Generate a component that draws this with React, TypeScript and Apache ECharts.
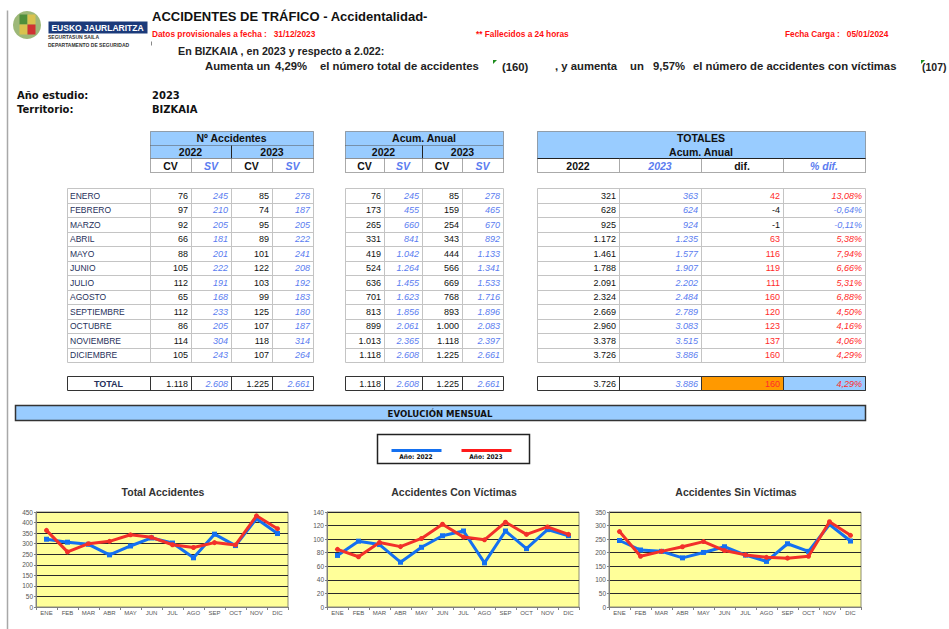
import React, { useEffect, useRef } from 'react';
import * as echarts from 'echarts';

const MONTHS = ['ENERO', 'FEBRERO', 'MARZO', 'ABRIL', 'MAYO', 'JUNIO', 'JULIO', 'AGOSTO', 'SEPTIEMBRE', 'OCTUBRE', 'NOVIEMBRE', 'DICIEMBRE'];
const MONTH_ABBR = ['ENE', 'FEB', 'MAR', 'ABR', 'MAY', 'JUN', 'JUL', 'AGO', 'SEP', 'OCT', 'NOV', 'DIC'];

const CV_2022 = [76, 97, 92, 66, 88, 105, 112, 65, 112, 86, 114, 105];
const SV_2022 = [245, 210, 205, 181, 201, 222, 191, 168, 233, 205, 304, 243];
const CV_2023 = [85, 74, 95, 89, 101, 122, 103, 99, 125, 107, 118, 107];
const SV_2023 = [278, 187, 205, 222, 241, 208, 192, 183, 180, 187, 314, 264];

const ACUM_CV_2022 = [76, 173, 265, 331, 419, 524, 636, 701, 813, 899, 1013, 1118];
const ACUM_SV_2022 = [245, 455, 660, 841, 1042, 1264, 1455, 1623, 1856, 2061, 2365, 2608];
const ACUM_CV_2023 = [85, 159, 254, 343, 444, 566, 669, 768, 893, 1000, 1118, 1225];
const ACUM_SV_2023 = [278, 465, 670, 892, 1133, 1341, 1533, 1716, 1896, 2083, 2397, 2661];

const TOT_2022 = [321, 628, 925, 1172, 1461, 1788, 2091, 2324, 2669, 2960, 3378, 3726];
const TOT_2023 = [363, 624, 924, 1235, 1577, 1907, 2202, 2484, 2789, 3083, 3515, 3886];
const DIF = [42, -4, -1, 63, 116, 119, 111, 160, 120, 123, 137, 160];
const PCT_DIF = [13.08, -0.64, -0.11, 5.38, 7.94, 6.66, 5.31, 6.88, 4.5, 4.16, 4.06, 4.29];

const TOTAL_ROW_T1 = [1118, 2608, 1225, 2661];
const TOTAL_ROW_T2 = [1118, 2608, 1225, 2661];
const TOTAL_ROW_T3 = [3726, 3886, 160];
const TOTAL_ROW_PCT = 4.29;

const TOTAL_ACC_2022 = [321, 307, 297, 247, 289, 327, 303, 233, 345, 291, 418, 348];
const TOTAL_ACC_2023 = [363, 261, 300, 311, 342, 330, 295, 282, 305, 294, 432, 371];

const CHART_TITLES = ['Total Accidentes', 'Accidentes Con Víctimas', 'Accidentes Sin Víctimas'];
const CHART_MAX = [450, 140, 350];
const CHART_STEP = [50, 20, 50];

const FF = '"Liberation Sans", Arial, sans-serif';
const FN = '"Liberation Sans Narrow", "DejaVu Sans Condensed", "Liberation Sans", sans-serif';
const NAVY = '#26305A';
const BLUE_TXT = '#5A7CF0';
const RED_TXT = '#FF2B2B';
const HDR = '#99CCFF';
const BLUE_LINE = '#1470F0';
const RED_LINE = '#F2302A';

const fmtN = (n: number) => (n < 0 ? '-' : '') + Math.abs(n).toString().replace(/\B(?=(\d{3})+(?!\d))/g, '.');
const fmtP = (p: number) => p.toFixed(2).replace('.', ',') + '%';

function buildGraphic() {
  const els: any[] = [];
  const rect = (x: number, y: number, w: number, h: number, fill: string, stroke: string | null, lw = 1, dash?: number[]) =>
    els.push({ type: 'rect', silent: true, shape: { x: Math.round(x) + 0.5, y: Math.round(y) + 0.5, width: w, height: h }, style: { fill, stroke: stroke || 'none', lineWidth: lw, lineDash: dash } });
  const line = (x1: number, y1: number, x2: number, y2: number, stroke: string, lw = 1, dash?: number[]) =>
    els.push({ type: 'line', silent: true, shape: { x1: Math.round(x1) + 0.5, y1: Math.round(y1) + 0.5, x2: Math.round(x2) + 0.5, y2: Math.round(y2) + 0.5 }, style: { stroke, lineWidth: lw, lineDash: dash } });
  const text = (x: number, y: number, t: string, font: string, fill: string, align = 'left') =>
    els.push({ type: 'text', silent: true, x, y, style: { text: t, font, fill, align, verticalAlign: 'middle', textAlign: align, textVerticalAlign: 'middle' } });

  // page side line
  line(7, 10, 7, 629, '#A8A8A8', 1.5);
  line(151, 41, 151, 45, '#888', 1);

  // logo
  els.push({ type: 'circle', silent: true, shape: { cx: 27, cy: 25, r: 14 }, style: { fill: '#9DB878' } });
  rect(19, 14, 8, 10, '#4F8F3A', null);
  rect(27, 14, 8, 10, '#D9C24E', null);
  rect(19, 24, 8, 10, '#D9C24E', null);
  rect(27, 24, 8, 10, '#D03232', null);
  rect(48, 21, 99, 12, '#1B3A7A', null);
  text(97.5, 27.5, 'EUSKO JAURLARITZA', `bold 8.5px ${FF}`, '#ffffff', 'center');
  text(48, 37, 'SEGURTASUN SAILA', `bold 5px ${FF}`, '#333', 'left');
  text(48, 45, 'DEPARTAMENTO DE SEGURIDAD', `bold 5px ${FF}`, '#333', 'left');

  // header texts
  text(152, 16, 'ACCIDENTES DE TRÁFICO - Accidentalidad-', `bold 13px ${FF}`, '#111', 'left');
  const fRed = `bold 8.3px ${FF}`;
  text(152, 34, 'Datos provisionales a fecha :   31/12/2023', fRed, '#FF1010', 'left');
  text(476, 34, '** Fallecidos a 24 horas', fRed, '#FF1010', 'left');
  text(785, 34, 'Fecha Carga :   05/01/2024', fRed, '#FF1010', 'left');
  text(178, 51, 'En BIZKAIA , en 2023 y respecto a 2.022:', `bold 10.7px ${FF}`, '#222', 'left');
  const f2 = `bold 11.3px ${FF}`;
  text(205, 66, 'Aumenta un', f2, '#222');
  text(275, 66, '4,29%', f2, '#222');
  text(320, 66, 'el número total de accidentes', f2, '#222');
  els.push({ type: 'polygon', silent: true, shape: { points: [[493, 60], [497, 60], [493, 64]] }, style: { fill: '#1E8C1E' } });
  text(502, 67, '(160)', f2, '#222');
  text(555, 66, ', y aumenta', f2, '#222');
  text(630, 66, 'un', f2, '#222');
  text(653, 66, '9,57%', f2, '#222');
  text(693, 66, 'el número de accidentes con víctimas', f2, '#222');
  els.push({ type: 'polygon', silent: true, shape: { points: [[921, 60], [925, 60], [921, 64]] }, style: { fill: '#1E8C1E' } });
  text(922, 67, '(107)', `bold 10.5px ${FF}`, '#222');

  const fSide = `bold 10px "DejaVu Sans", ${FF}`;
  text(17, 95, 'Año estudio:', fSide, '#111');
  text(152, 95, '2023', fSide, '#111');
  text(17, 109, 'Territorio:', fSide, '#111');
  text(152, 109, 'BIZKAIA', fSide, '#111');

  // column definitions
  const T1 = [150, 191, 231, 272, 313];
  const T2 = [345, 384, 422, 462, 503];
  const T3 = [537, 619, 701, 783, 865];
  const LBL0 = 67;
  const mid = (a: number, b: number) => (a + b) / 2;
  const hdrFont = `bold 10.5px ${FF}`;
  const hdrFontI = `italic bold 10.5px ${FF}`;
  const dotted = [1, 1];
  const dk = '#555';

  const drawSmallHeader = (C: number[], title: string) => {
    rect(C[0], 131, C[4] - C[0], 27, HDR, dk, 1, dotted);
    line(C[0], 144.5, C[4], 144.5, dk, 1, dotted);
    line(C[2], 145, C[2], 158, '#222', 1);
    rect(C[0], 158, C[4] - C[0], 14, '#ffffff', dk, 1, dotted);
    line(C[1], 158, C[1], 172, dk, 1, dotted);
    line(C[2], 158, C[2], 172, dk, 1, dotted);
    line(C[3], 158, C[3], 172, dk, 1, dotted);
    text(mid(C[0], C[4]), 138, title, hdrFont, '#111', 'center');
    text(mid(C[0], C[2]), 151.5, '2022', hdrFont, '#111', 'center');
    text(mid(C[2], C[4]), 151.5, '2023', hdrFont, '#111', 'center');
    text(mid(C[0], C[1]), 165.5, 'CV', hdrFont, '#111', 'center');
    text(mid(C[1], C[2]), 165.5, 'SV', hdrFontI, BLUE_TXT, 'center');
    text(mid(C[2], C[3]), 165.5, 'CV', hdrFont, '#111', 'center');
    text(mid(C[3], C[4]), 165.5, 'SV', hdrFontI, BLUE_TXT, 'center');
  };
  drawSmallHeader(T1, 'Nº Accidentes');
  drawSmallHeader(T2, 'Acum. Anual');

  rect(T3[0], 131, T3[4] - T3[0], 27, HDR, dk, 1, dotted);
  rect(T3[0], 158, T3[4] - T3[0], 14, '#ffffff', dk, 1, dotted);
  line(T3[0], 158, T3[4], 158, '#222', 1);
  line(T3[1], 158, T3[1], 172, dk, 1, dotted);
  line(T3[2], 158, T3[2], 172, dk, 1, dotted);
  line(T3[3], 158, T3[3], 172, dk, 1, dotted);
  text(mid(T3[0], T3[4]), 138, 'TOTALES', hdrFont, '#111', 'center');
  text(mid(T3[0], T3[4]), 151.5, 'Acum. Anual', hdrFont, '#111', 'center');
  text(mid(T3[0], T3[1]), 165.5, '2022', hdrFont, '#111', 'center');
  text(mid(T3[1], T3[2]), 165.5, '2023', hdrFontI, BLUE_TXT, 'center');
  text(mid(T3[2], T3[3]), 165.5, 'dif.', hdrFont, '#111', 'center');
  text(mid(T3[3], T3[4]), 165.5, '% dif.', hdrFontI, BLUE_TXT, 'center');

  // data grid
  const TOP = 188, RH = 14.5, N = MONTHS.length;
  const gridCol = '#C4C4C4';
  const drawGrid = (cols: number[]) => {
    rect(cols[0], TOP, cols[cols.length - 1] - cols[0], RH * N, '#ffffff', null);
    for (let k = 0; k <= N; k++) line(cols[0], TOP + k * RH, cols[cols.length - 1], TOP + k * RH, gridCol, 1);
    cols.forEach((c) => line(c, TOP, c, TOP + N * RH, gridCol, 1));
  };
  drawGrid([LBL0, ...T1]);
  drawGrid(T2);
  drawGrid(T3);

  const fNum = `9px ${FF}`;
  const fNumI = `italic 9px ${FF}`;
  const fLbl = `8.5px ${FF}`;
  MONTHS.forEach((m, i) => {
    const yc = TOP + RH * (i + 0.5) + 0.5;
    text(LBL0 + 3, yc, m, fLbl, NAVY, 'left');
    const v1 = [CV_2022[i], SV_2022[i], CV_2023[i], SV_2023[i]];
    v1.forEach((v, j) => text(T1[j + 1] - 3, yc, fmtN(v), j % 2 ? fNumI : fNum, j % 2 ? BLUE_TXT : '#111', 'right'));
    const v2 = [ACUM_CV_2022[i], ACUM_SV_2022[i], ACUM_CV_2023[i], ACUM_SV_2023[i]];
    v2.forEach((v, j) => text(T2[j + 1] - 3, yc, fmtN(v), j % 2 ? fNumI : fNum, j % 2 ? BLUE_TXT : '#111', 'right'));
    text(T3[1] - 3, yc, fmtN(TOT_2022[i]), fNum, '#111', 'right');
    text(T3[2] - 3, yc, fmtN(TOT_2023[i]), fNumI, BLUE_TXT, 'right');
    text(T3[3] - 3, yc, fmtN(DIF[i]), fNum, DIF[i] < 0 ? '#111' : RED_TXT, 'right');
    text(T3[4] - 3, yc, fmtP(PCT_DIF[i]), fNumI, PCT_DIF[i] < 0 ? BLUE_TXT : RED_TXT, 'right');
  });

  // total row
  const TY = 376, TH = 14, tyc = TY + TH / 2 + 0.5;
  const tb = '#333';
  rect(LBL0, TY, T1[4] - LBL0, TH, '#ffffff', tb, 1);
  [T1[0], T1[1], T1[2], T1[3]].forEach((c) => line(c, TY, c, TY + TH, tb, 1));
  text(mid(LBL0, T1[0]), tyc, 'TOTAL', `bold 9px ${FF}`, NAVY, 'center');
  TOTAL_ROW_T1.forEach((v, j) => text(T1[j + 1] - 3, tyc, fmtN(v), j % 2 ? fNumI : fNum, j % 2 ? BLUE_TXT : '#111', 'right'));
  rect(T2[0], TY, T2[4] - T2[0], TH, '#ffffff', tb, 1);
  [T2[1], T2[2], T2[3]].forEach((c) => line(c, TY, c, TY + TH, tb, 1));
  TOTAL_ROW_T2.forEach((v, j) => text(T2[j + 1] - 3, tyc, fmtN(v), j % 2 ? fNumI : fNum, j % 2 ? BLUE_TXT : '#111', 'right'));
  rect(T3[0], TY, T3[4] - T3[0], TH, '#ffffff', tb, 1);
  rect(T3[2], TY, T3[3] - T3[2], TH, '#FF9900', tb, 1);
  rect(T3[3], TY, T3[4] - T3[3], TH, HDR, tb, 1);
  line(T3[1], TY, T3[1], TY + TH, tb, 1);
  text(T3[1] - 3, tyc, fmtN(TOTAL_ROW_T3[0]), fNum, '#111', 'right');
  text(T3[2] - 3, tyc, fmtN(TOTAL_ROW_T3[1]), fNumI, BLUE_TXT, 'right');
  text(T3[3] - 3, tyc, fmtN(TOTAL_ROW_T3[2]), fNum, RED_TXT, 'right');
  text(T3[4] - 3, tyc, fmtP(TOTAL_ROW_PCT), fNumI, RED_TXT, 'right');

  // section bar
  rect(15, 405, 850, 15, HDR, '#333', 1.5);
  text(440, 413, 'EVOLUCIÓN MENSUAL', `bold 9.5px ${FN}`, '#111', 'center');

  // legend box
  rect(377, 434, 152, 29, '#ffffff', '#222', 1.5);
  line(391, 450, 441, 450, BLUE_LINE, 3);
  line(461, 450, 511, 450, '#FF1A1A', 3);
  text(416, 456.5, 'Año: 2022', `bold 6.5px ${FN}`, '#111', 'center');
  text(486, 456.5, 'Año: 2023', `bold 6.5px ${FN}`, '#111', 'center');

  return els;
}

const GRIDS = [
  { left: 36, top: 512, width: 252, height: 95, titleX: 158 },
  { left: 327, top: 512, width: 252, height: 95, titleX: 449 },
  { left: 609, top: 512, width: 252, height: 95, titleX: 731 },
];

export default function App() {
  const ref = useRef<HTMLDivElement>(null);
  useEffect(() => {
    if (!ref.current) return;
    const chart = echarts.init(ref.current, null, { renderer: 'svg' });
    const data2022 = [TOTAL_ACC_2022, CV_2022, SV_2022];
    const data2023 = [TOTAL_ACC_2023, CV_2023, SV_2023];
    const option: any = {
      animation: false,
      backgroundColor: '#ffffff',
      title: CHART_TITLES.map((t, i) => ({
        text: t,
        left: GRIDS[i].titleX,
        top: 481,
        textAlign: 'center',
        textStyle: { fontSize: 10.5, fontWeight: 'bold', color: '#333', fontFamily: FF },
      })),
      grid: GRIDS.map((g) => ({
        left: g.left, top: g.top, width: g.width, height: g.height,
        show: true, backgroundColor: '#FFFF99', borderColor: '#8C8C6E', borderWidth: 1,
      })),
      xAxis: GRIDS.map((_, i) => ({
        type: 'category',
        gridIndex: i,
        data: MONTH_ABBR,
        boundaryGap: true,
        axisLine: { show: true, lineStyle: { color: '#808080', width: 1 } },
        axisTick: { show: true, length: 3, lineStyle: { color: '#808080' } },
        axisLabel: { fontSize: 6, color: '#555', margin: 3, interval: 0, fontFamily: FF },
        splitLine: { show: false },
      })),
      yAxis: GRIDS.map((_, i) => ({
        type: 'value',
        gridIndex: i,
        min: 0,
        max: CHART_MAX[i],
        interval: CHART_STEP[i],
        axisLine: { show: true, lineStyle: { color: '#808080', width: 1 } },
        axisTick: { show: true, length: 2, lineStyle: { color: '#808080' } },
        axisLabel: { fontSize: 6.5, color: '#555', margin: 3, fontFamily: FF },
        splitLine: { show: true, lineStyle: { color: '#2A2A2A', width: 1 } },
      })),
      series: GRIDS.flatMap((_, i) => [
        {
          name: 'Año: 2022', type: 'line', xAxisIndex: i, yAxisIndex: i, data: data2022[i],
          symbol: 'rect', symbolSize: 5, lineStyle: { width: 3, color: BLUE_LINE }, itemStyle: { color: BLUE_LINE }, z: 2,
        },
        {
          name: 'Año: 2023', type: 'line', xAxisIndex: i, yAxisIndex: i, data: data2023[i],
          symbol: 'circle', symbolSize: 5, lineStyle: { width: 3, color: RED_LINE }, itemStyle: { color: RED_LINE }, z: 3,
        },
      ]),
      graphic: { elements: buildGraphic() },
    };
    chart.setOption(option);
    return () => chart.dispose();
  }, []);
  return <div ref={ref} style={{ position: 'fixed', left: 0, top: 0, width: 949, height: 629 }} />;
}
